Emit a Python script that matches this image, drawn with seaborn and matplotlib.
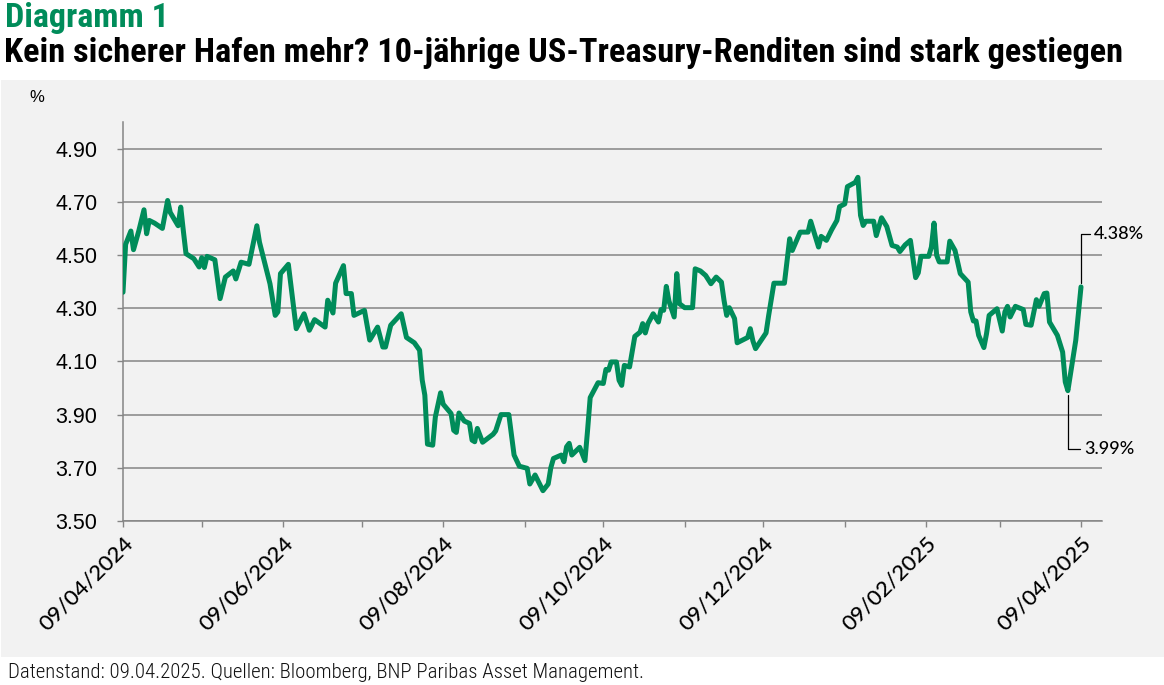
import matplotlib
matplotlib.use("Agg")
import matplotlib.pyplot as plt
import matplotlib.dates as mdates
from matplotlib import font_manager
from matplotlib.patches import Rectangle
import seaborn as sns
import pandas as pd

# ---------------- data ----------------
dates = [
    "2024-04-09", "2024-04-10", "2024-04-12", "2024-04-13", "2024-04-15", "2024-04-17",
    "2024-04-18", "2024-04-19", "2024-04-21", "2024-04-24", "2024-04-26", "2024-04-27",
    "2024-04-30", "2024-05-01", "2024-05-02", "2024-05-03", "2024-05-06", "2024-05-08",
    "2024-05-09", "2024-05-10", "2024-05-11", "2024-05-14", "2024-05-16", "2024-05-18",
    "2024-05-21", "2024-05-22", "2024-05-24", "2024-05-27", "2024-05-30", "2024-05-31",
    "2024-06-04", "2024-06-06", "2024-06-07", "2024-06-08", "2024-06-11", "2024-06-14",
    "2024-06-17", "2024-06-19", "2024-06-21", "2024-06-25", "2024-06-26", "2024-06-28",
    "2024-06-29", "2024-07-02", "2024-07-03", "2024-07-05", "2024-07-06", "2024-07-10",
    "2024-07-12", "2024-07-15", "2024-07-17", "2024-07-18", "2024-07-20", "2024-07-24",
    "2024-07-26", "2024-07-29", "2024-07-31", "2024-08-01", "2024-08-02", "2024-08-03",
    "2024-08-05", "2024-08-06", "2024-08-08", "2024-08-09", "2024-08-12", "2024-08-13",
    "2024-08-14", "2024-08-15", "2024-08-17", "2024-08-19", "2024-08-20", "2024-08-21",
    "2024-08-22", "2024-08-24", "2024-08-28", "2024-08-29", "2024-08-31", "2024-09-03",
    "2024-09-04", "2024-09-05", "2024-09-07", "2024-09-10", "2024-09-11", "2024-09-13",
    "2024-09-16", "2024-09-18", "2024-09-19", "2024-09-20", "2024-09-23", "2024-09-24",
    "2024-09-25", "2024-09-26", "2024-09-27", "2024-09-30", "2024-10-02", "2024-10-03",
    "2024-10-04", "2024-10-07", "2024-10-09", "2024-10-10", "2024-10-11", "2024-10-12",
    "2024-10-14", "2024-10-15", "2024-10-16", "2024-10-17", "2024-10-19", "2024-10-21",
    "2024-10-23", "2024-10-24", "2024-10-25", "2024-10-26", "2024-10-28", "2024-10-30",
    "2024-10-31", "2024-11-01", "2024-11-02", "2024-11-03", "2024-11-05", "2024-11-06",
    "2024-11-07", "2024-11-09", "2024-11-12", "2024-11-13", "2024-11-15", "2024-11-17",
    "2024-11-19", "2024-11-21", "2024-11-23", "2024-11-24", "2024-11-25", "2024-11-26",
    "2024-11-28", "2024-11-29", "2024-12-03", "2024-12-04", "2024-12-05", "2024-12-06",
    "2024-12-10", "2024-12-11", "2024-12-13", "2024-12-17", "2024-12-19", "2024-12-20",
    "2024-12-23", "2024-12-26", "2024-12-27", "2024-12-30", "2024-12-31", "2025-01-02",
    "2025-01-04", "2025-01-06", "2025-01-07", "2025-01-09", "2025-01-10", "2025-01-13",
    "2025-01-14", "2025-01-15", "2025-01-16", "2025-01-17", "2025-01-20", "2025-01-21",
    "2025-01-23", "2025-01-25", "2025-01-27", "2025-01-29", "2025-01-30", "2025-02-01",
    "2025-02-03", "2025-02-05", "2025-02-06", "2025-02-07", "2025-02-10", "2025-02-11",
    "2025-02-12", "2025-02-13", "2025-02-14", "2025-02-17", "2025-02-18", "2025-02-20",
    "2025-02-22", "2025-02-25", "2025-02-26", "2025-02-27", "2025-02-28", "2025-03-01",
    "2025-03-03", "2025-03-04", "2025-03-05", "2025-03-08", "2025-03-10", "2025-03-11",
    "2025-03-12", "2025-03-13", "2025-03-15", "2025-03-18", "2025-03-19", "2025-03-21",
    "2025-03-23", "2025-03-24", "2025-03-26", "2025-03-27", "2025-03-28", "2025-03-31",
    "2025-04-02", "2025-04-03", "2025-04-04", "2025-04-07", "2025-04-08", "2025-04-09",
]
yields = [
    4.36, 4.54, 4.59, 4.52, 4.59, 4.67,
    4.58, 4.63, 4.62, 4.60, 4.705, 4.66,
    4.61, 4.68, 4.59, 4.505, 4.486, 4.455,
    4.49, 4.453, 4.495, 4.482, 4.336, 4.417,
    4.44, 4.41, 4.473, 4.465, 4.61, 4.548,
    4.392, 4.273, 4.286, 4.43, 4.465, 4.223,
    4.279, 4.217, 4.257, 4.229, 4.33, 4.282,
    4.394, 4.46, 4.355, 4.355, 4.273, 4.292,
    4.18, 4.229, 4.154, 4.154, 4.236, 4.279,
    4.19, 4.17, 4.142, 4.03, 3.973, 3.789,
    3.785, 3.891, 3.982, 3.939, 3.904, 3.841,
    3.833, 3.906, 3.876, 3.867, 3.804, 3.798,
    3.848, 3.796, 3.826, 3.839, 3.90, 3.90,
    3.823, 3.748, 3.706, 3.698, 3.639, 3.673,
    3.614, 3.639, 3.70, 3.735, 3.748, 3.723,
    3.779, 3.792, 3.748, 3.777, 3.727, 3.841,
    3.964, 4.02, 4.017, 4.07, 4.067, 4.098,
    4.098, 4.029, 4.01, 4.085, 4.079, 4.194,
    4.21, 4.242, 4.207, 4.242, 4.279, 4.248,
    4.295, 4.292, 4.382, 4.327, 4.267, 4.43,
    4.317, 4.302, 4.302, 4.448, 4.44, 4.423,
    4.392, 4.417, 4.398, 4.329, 4.273, 4.302,
    4.261, 4.17, 4.19, 4.223, 4.177, 4.148,
    4.207, 4.273, 4.394, 4.394, 4.561, 4.517,
    4.586, 4.586, 4.627, 4.53, 4.57, 4.555,
    4.595, 4.63, 4.682, 4.692, 4.757, 4.773,
    4.792, 4.649, 4.611, 4.627, 4.627, 4.573,
    4.64, 4.607, 4.536, 4.53, 4.513, 4.538,
    4.555, 4.415, 4.433, 4.495, 4.495, 4.53,
    4.62, 4.499, 4.474, 4.474, 4.552, 4.517,
    4.43, 4.398, 4.286, 4.252, 4.252, 4.198,
    4.152, 4.204, 4.273, 4.298, 4.214, 4.286,
    4.307, 4.267, 4.307, 4.295, 4.239, 4.236,
    4.332, 4.307, 4.355, 4.357, 4.248, 4.198,
    4.135, 4.023, 3.99, 4.179, 4.279, 4.38,
]
y_ticks = [3.50, 3.70, 3.90, 4.10, 4.30, 4.50, 4.70, 4.90]
annotations = [("2025-04-09", 4.38, "4.38%"), ("2025-04-04", 3.99, "3.99%")]

title_1 = "Diagramm 1"
title_2 = "Kein sicherer Hafen mehr? 10-jährige US-Treasury-Renditen sind stark gestiegen"
footer = "Datenstand: 09.04.2025. Quellen: Bloomberg, BNP Paribas Asset Management."
y_unit = "%"

# ---------------- style ----------------
GREEN = "#008C5A"
PANEL = "#F2F2F2"
GRID = "#858585"

available = {f.name for f in font_manager.fontManager.ttflist}
def pick(*names):
    for n in names:
        if n in available:
            return n
    return "DejaVu Sans"

TITLE_FONT = pick("Roboto Condensed", "Liberation Sans Narrow", "Roboto", "Liberation Sans")
TICK_FONT = pick("Liberation Sans", "Roboto")
XTICK_FONT = pick("Lato", "Open Sans", "Liberation Sans")
FOOT_FONT = pick("Roboto Condensed", "Roboto", "Lato", "Liberation Sans")

sns.set_theme(style="white")
plt.rcParams["font.family"] = [TICK_FONT, "DejaVu Sans"]

df = pd.DataFrame({"date": pd.to_datetime(dates), "yield": yields})

W, H = 1164, 685
fig = plt.figure(figsize=(W / 100, H / 100), dpi=100)
fig.patch.set_facecolor("white")
fig.patches.append(Rectangle((1 / W, 1 - 657 / H), 1, (657 - 80) / H,
                             transform=fig.transFigure, facecolor=PANEL,
                             edgecolor="none", zorder=-5))

ax = fig.add_axes([123 / W, 1 - 521 / H, (1102 - 123) / W, (521 - 122) / H])
ax.set_facecolor(PANEL)
ax.set_zorder(1)

sns.lineplot(data=df, x="date", y="yield", ax=ax, color=GREEN, linewidth=3.6,
             solid_joinstyle="round", zorder=3)

start = pd.Timestamp(dates[0])
ax.set_xlim(start, start + pd.Timedelta(days=373))
ax.set_ylim(3.5, 5.0)

ax.set_yticks(y_ticks)
ax.set_yticklabels([f"{v:.2f}" for v in y_ticks])
ax.yaxis.grid(True, color=GRID, linewidth=1.1)
ax.xaxis.grid(False)
ax.set_axisbelow(True)

ax.xaxis.set_major_locator(mdates.MonthLocator(bymonth=[2, 4, 6, 8, 10, 12], bymonthday=9))
ax.xaxis.set_minor_locator(mdates.MonthLocator(bymonthday=9))
ax.xaxis.set_major_formatter(mdates.DateFormatter("%d/%m/%Y"))

ax.tick_params(axis="x", which="both", direction="out", length=4.5, width=1,
               color=GRID, pad=4, bottom=True)
ax.tick_params(axis="x", which="major", labelsize=16, labelrotation=45,
               labelcolor="black", labelfontfamily=XTICK_FONT)
ax.tick_params(axis="y", direction="out", length=4.5, width=1, color=GRID, pad=14,
               left=True, labelsize=15.5, labelcolor="black", labelfontfamily=TICK_FONT)

for s in ["top", "right"]:
    ax.spines[s].set_visible(False)
for s in ["left", "bottom"]:
    ax.spines[s].set_color(GRID)
    ax.spines[s].set_linewidth(1.1)
ax.set_xlabel("")
ax.set_ylabel("")

# annotations
offsets = [(9.5, 38), (12, -42)]
for (d, v, txt), off in zip(annotations, offsets):
    ax.annotate(txt, xy=(pd.Timestamp(d), v), xytext=off, textcoords="offset points",
                ha="left", va="center", fontsize=13, fontfamily=XTICK_FONT,
                fontweight="medium", color="black",
                arrowprops=dict(arrowstyle="-", color="black", lw=0.9, relpos=(0, 0.5),
                                connectionstyle="angle,angleA=0,angleB=90,rad=0",
                                shrinkA=1, shrinkB=3),
                annotation_clip=False, zorder=5)

# texts
fig.text(29 / W, 1 - 97 / H, y_unit, fontsize=12, fontfamily=TICK_FONT, va="center",
         ha="left", color="black")

t1 = fig.text(5 / W, 1 - 27 / H, title_1, fontsize=20, fontweight="bold",
              fontfamily=TITLE_FONT, color=GREEN, va="baseline", ha="left")
t2 = fig.text(4 / W, 1 - 62 / H, title_2, fontsize=20, fontweight="bold",
              fontfamily=TITLE_FONT, color="black", va="baseline", ha="left")
t3 = fig.text(8 / W, 1 - 678 / H, footer, fontsize=12, fontweight="light",
              fontfamily=FOOT_FONT, color="#111111", va="baseline", ha="left")

fig.canvas.draw()
r = fig.canvas.get_renderer()
for t, target in [(t1, 163), (t2, 1114), (t3, 637)]:
    w = t.get_window_extent(renderer=r).width
    t.set_fontsize(t.get_fontsize() * target / w)

for lab in ax.get_xticklabels():
    lab.set_ha("right")
    lab.set_rotation_mode("anchor")
    lab.set_fontweight("medium")

fig.savefig("out.png", dpi=100, facecolor="white")
